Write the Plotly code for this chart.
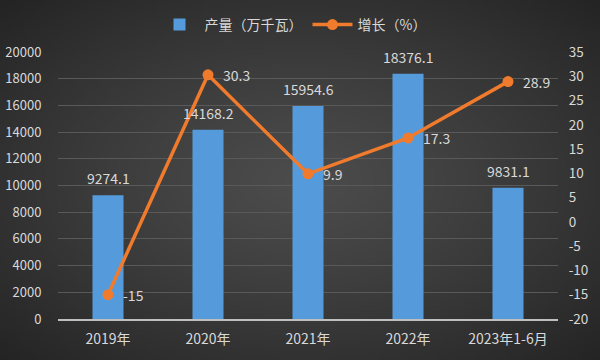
import base64, struct, zlib
import numpy as np
import plotly.graph_objects as go

categories = ["2019年", "2020年", "2021年", "2022年", "2023年1-6月"]
output_values = [9274.1, 14168.2, 15954.6, 18376.1, 9831.1]
growth_values = [-15, 30.3, 9.9, 17.3, 28.9]
output_labels = ["9274.1", "14168.2", "15954.6", "18376.1", "9831.1"]
growth_labels = ["-15", "30.3", "9.9", "17.3", "28.9"]
left_ticks = [0, 2000, 4000, 6000, 8000, 10000, 12000, 14000, 16000, 18000, 20000]
left_tick_text = ["0", "2000", "4000", "6000", "8000", "10000", "12000", "14000",
                  "16000", "18000", "20000"]
right_ticks = [-20, -15, -10, -5, 0, 5, 10, 15, 20, 25, 30, 35]
right_tick_text = ["-20", "-15", "-10", "-5", "0", "5", "10", "15", "20", "25", "30", "35"]


def gradient_png(w=200, h=120):
    yy, xx = np.mgrid[0:h, 0:w]
    dx = (xx - w * 0.5) / (w * 0.5)
    dy = (yy - h * 0.5) / (h * 0.5)
    d = np.clip(np.sqrt(dx ** 2 + dy ** 2) / 1.414, 0, 1)
    center, edge = 76.0, 36.0
    v = (center + (edge - center) * d ** 1.2).astype(np.uint8)
    arr = np.stack([v, v, v], axis=-1)
    raw = b"".join(b"\x00" + arr[r].tobytes() for r in range(h))

    def chunk(t, data):
        c = struct.pack(">I", len(data)) + t + data
        return c + struct.pack(">I", zlib.crc32(t + data) & 0xFFFFFFFF)

    png = b"\x89PNG\r\n\x1a\n"
    png += chunk(b"IHDR", struct.pack(">IIBBBBB", w, h, 8, 2, 0, 0, 0))
    png += chunk(b"IDAT", zlib.compress(raw, 9))
    png += chunk(b"IEND", b"")
    return "data:image/png;base64," + base64.b64encode(png).decode()


FONT = "Noto Sans CJK SC, Noto Sans, sans-serif"
TXT = "#d9d9d9"
L, R, T, B = 58, 42, 52, 41
W, H = 600, 360
pw, ph = W - L - R, H - T - B

fig = go.Figure()
fig.add_trace(go.Bar(
    x=categories, y=output_values, name="产量（万千瓦）",
    marker=dict(color="#559bdc", line=dict(width=0)),
    width=0.31, yaxis="y",
))
fig.add_trace(go.Scatter(
    x=categories, y=growth_values, name="增长（%）", yaxis="y2",
    mode="lines+markers",
    line=dict(color="#f07b2c", width=3.5),
    marker=dict(color="#f07b2c", size=11),
))

annotations = []
for c, v, t in zip(categories, output_values, output_labels):
    annotations.append(dict(
        x=c, y=v, xref="x", yref="y", text=t, showarrow=False,
        yshift=17, font=dict(color=TXT, size=14, family=FONT),
    ))
for c, v, t in zip(categories, growth_values, growth_labels):
    annotations.append(dict(
        x=c, y=v, xref="x", yref="y2", text=t, showarrow=False,
        xanchor="left", xshift=13, font=dict(color=TXT, size=14, family=FONT),
    ))

fig.update_layout(
    width=W, height=H,
    margin=dict(l=L, r=R, t=T, b=B, autoexpand=False),
    paper_bgcolor="#333333",
    plot_bgcolor="rgba(0,0,0,0)",
    font=dict(family=FONT, color=TXT, size=13),
    bargap=0.69,
    showlegend=True,
    legend=dict(
        orientation="h", x=0.47, xanchor="center", y=1 + 27 / ph, yanchor="middle",
        font=dict(size=14, color=TXT, family=FONT), bgcolor="rgba(0,0,0,0)",
        itemwidth=40,
    ),
    xaxis=dict(
        showgrid=False, showline=True, linecolor="#bfbfbf", linewidth=1.5,
        ticks="outside", ticklen=6, tickcolor="rgba(0,0,0,0)",
        tickfont=dict(size=14, color=TXT, family=FONT), automargin=False,
    ),
    yaxis=dict(
        range=[0, 20000], tickvals=left_ticks, ticktext=left_tick_text,
        showgrid=True, gridcolor="#595959", gridwidth=1,
        zeroline=False, showline=False,
        ticks="outside", ticklen=13, tickcolor="rgba(0,0,0,0)",
        tickfont=dict(size=13, color=TXT, family=FONT), automargin=False,
    ),
    yaxis2=dict(
        range=[-20, 35], tickvals=right_ticks, ticktext=right_tick_text,
        overlaying="y", side="right", showgrid=False,
        zeroline=False, showline=False,
        ticks="outside", ticklen=7, tickcolor="rgba(0,0,0,0)",
        tickfont=dict(size=13.5, color=TXT, family=FONT), automargin=False,
    ),
    annotations=annotations,
    images=[dict(
        source=gradient_png(), xref="paper", yref="paper",
        x=-L / pw, y=1 + T / ph, sizex=W / pw, sizey=H / ph,
        xanchor="left", yanchor="top", sizing="stretch", layer="below",
    )],
)

fig.write_html(
    "out.html",
    config={"displayModeBar": False},
    post_script="document.body.style.margin='0';document.body.style.overflow='hidden';",
)
